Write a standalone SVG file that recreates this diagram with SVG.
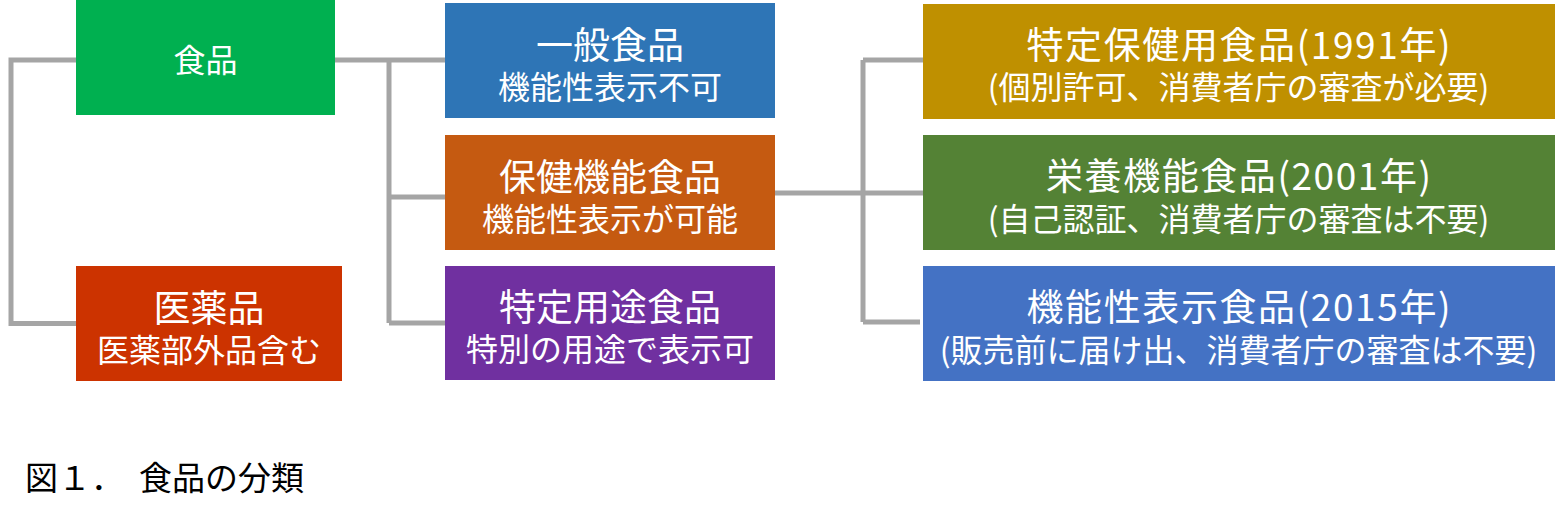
<svg xmlns="http://www.w3.org/2000/svg" width="1555" height="522" viewBox="0 0 1555 522">
<style>
.t{font-family:"Noto Sans CJK JP","Noto Sans",sans-serif;fill:#ffffff;text-anchor:middle}
.h{font-size:37px}
.s{font-size:32px}
.c{fill:none;stroke:#a5a5a5;stroke-width:5;stroke-linejoin:miter}
.cap{font-family:"Noto Sans CJK JP","Noto Sans",sans-serif;font-size:33px;fill:#000000}
</style>
<rect width="1555" height="522" fill="#ffffff"/>
<g id="connectors">
<path class="c" d="M76,60 H11 V323.5 H76"/>
<path class="c" d="M335,60 H445 M389,60 V323 M389,197 H446 M389,323 H445"/>
<path class="c" d="M775,193 H923 M863,60 V322 M863,60 H923 M863,322 H920"/>
</g>
<g id="node-shokuhin">
<rect x="76" y="0" width="259" height="115" fill="#00b050"/>
<text class="t" x="205.5" y="72" font-size="32">食品</text>
</g>
<g id="node-iyakuhin">
<rect x="76" y="266" width="266" height="115" fill="#cc3300"/>
<text class="t"><tspan class="h" x="209" y="322">医薬品</tspan><tspan class="s" x="209" y="362">医薬部外品含む</tspan></text>
</g>
<g id="node-ippan">
<rect x="445" y="3" width="330" height="115" fill="#2e75b6"/>
<text class="t"><tspan class="h" x="610" y="59">一般食品</tspan><tspan class="s" x="610" y="99">機能性表示不可</tspan></text>
</g>
<g id="node-hoken">
<rect x="445" y="135" width="330" height="115" fill="#c55a11"/>
<text class="t"><tspan class="h" x="610" y="191">保健機能食品</tspan><tspan class="s" x="610" y="231">機能性表示が可能</tspan></text>
</g>
<g id="node-tokutei-yoto">
<rect x="445" y="266" width="330" height="114" fill="#7030a0"/>
<text class="t"><tspan class="h" x="610" y="321">特定用途食品</tspan><tspan class="s" x="610" y="361">特別の用途で表示可</tspan></text>
</g>
<g id="node-tokuho">
<rect x="923" y="4" width="632" height="115" fill="#bf9000"/>
<text class="t"><tspan class="h" x="1238.5" y="59" textLength="424" lengthAdjust="spacing">特定保健用食品(1991年)</tspan><tspan class="s" x="1238.5" y="99">(個別許可、消費者庁の審査が必要)</tspan></text>
</g>
<g id="node-eiyo">
<rect x="923" y="135" width="632" height="115" fill="#548235"/>
<text class="t"><tspan class="h" x="1238.5" y="190" textLength="385" lengthAdjust="spacing">栄養機能食品(2001年)</tspan><tspan class="s" x="1238.5" y="231">(自己認証、消費者庁の審査は不要)</tspan></text>
</g>
<g id="node-kinosei">
<rect x="923" y="266" width="632" height="115" fill="#4472c4"/>
<text class="t"><tspan class="h" x="1238.5" y="321" textLength="424" lengthAdjust="spacing">機能性表示食品(2015年)</tspan><tspan class="s" x="1238.5" y="362">(販売前に届け出、消費者庁の審査は不要)</tspan></text>
</g>
<text class="cap" x="25" y="490">図１．<tspan x="139">食品の分類</tspan></text>
</svg>
